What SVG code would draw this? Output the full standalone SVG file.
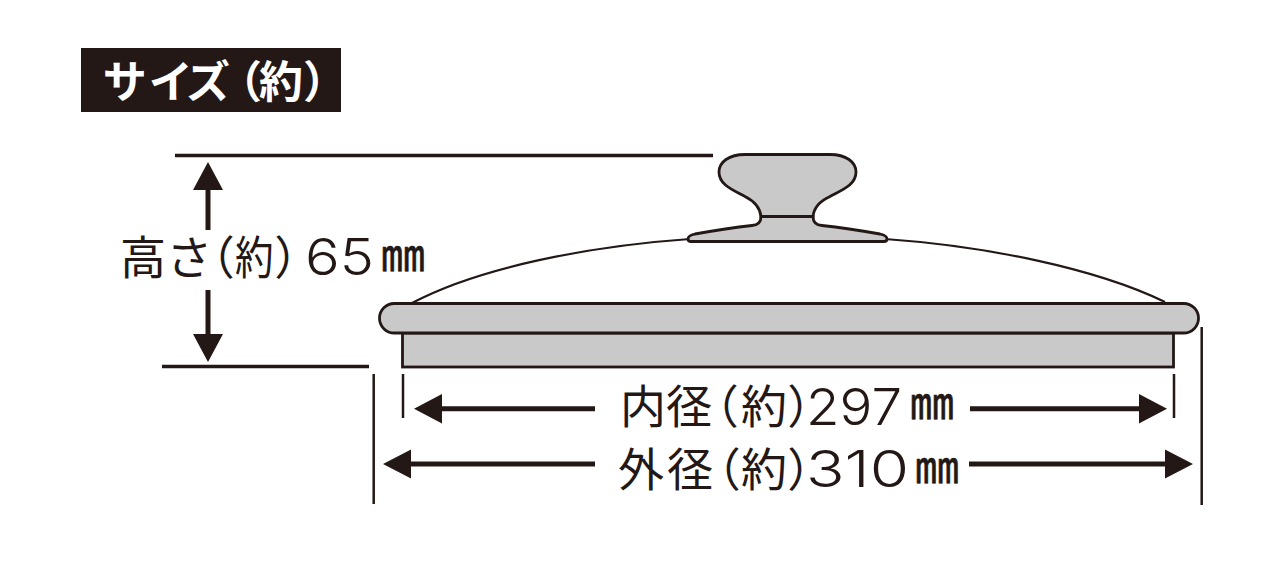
<svg xmlns="http://www.w3.org/2000/svg" width="1280" height="580" viewBox="0 0 1280 580">
<defs>
<style>
.ln{stroke:#231815;fill:none}
.part{fill:#c9c9c9;stroke:#231815;stroke-width:2.8}
.ar{fill:#231815}
.t{font-family:"Noto Sans CJK JP","Noto Sans",sans-serif;fill:#231815;font-size:46px;font-feature-settings:"palt"}
.c{letter-spacing:-6px}
.n{font-family:Inter,"Liberation Sans",sans-serif;font-weight:300;fill:#231815;font-size:51px}
.u{font-family:"Noto Sans CJK JP","Noto Sans",sans-serif;fill:#231815;stroke:#231815;stroke-width:.6;font-size:44px}
</style>
</defs>
<rect width="1280" height="580" fill="#fff"/>
<g id="title">
<rect x="81" y="48" width="260" height="64" fill="#231815"/>
<text y="98" font-family="'Noto Sans CJK JP',sans-serif" font-weight="700" font-size="44" fill="#fff" style="font-feature-settings:'palt'"><tspan x="103">サ</tspan><tspan x="150">イ</tspan><tspan x="187">ズ</tspan><tspan x="238">（</tspan><tspan x="259">約</tspan><tspan x="305">）</tspan></text>
</g>
<g id="lid">
<path class="ln" stroke-width="2.2" d="M412 303C480 267 590 246 690 239M885 239C985 246 1095 268 1165 302"/>
<path id="flange" class="part" d="M761 216.5C761 222 758 225 752 225.5C730 228 712 231 695 234C690 235 688 237 688 239C688 241 689 241.5 691 241.5H884C886 241.5 887 241 887 239C887 237 885 235 880 234C863 231 845 228 822 225.5C816 225 813 222 813 216.5Z"/>
<path id="knob" class="part" d="M761 216.5C760 207 754 201 745 196.5C733 190 719 185 719 172C719 162 729 154.5 745 154.5H830C846 154.5 856 162 856 172C856 185 842 190 830 196.5C820 201 814 207 813 216.5Z"/>
<rect id="skirt" class="part" x="402.5" y="333" width="771" height="34"/>
<rect id="rim" class="part" x="379.5" y="303.5" width="819" height="29.5" rx="14.75"/>
</g>
<g id="connectors">
<path class="ln" stroke-width="3.6" d="M175 155.5H713M162 366.5H369"/>
<path class="ln" stroke-width="2.5" d="M403 374V418M1174 374V418M373.7 374V504M1201.7 327V505"/>
<path class="ln" stroke-width="5" d="M208 230V185M208 290V340M595 408.7H435M970 408.7H1145M595 464H405M969 464H1170"/>
<path class="ar" d="M208 162L223 190H193ZM208 362L223 334H193ZM414 408.7L442 394V423.4ZM1167 408.7L1139 394V423.4ZM383 464L411 449.5V478.5ZM1193 464L1165 449.5V478.5Z"/>
</g>
<g id="height-label">
<text y="274" class="t"><tspan x="120">高</tspan><tspan x="168">さ</tspan><tspan x="210">（</tspan></text>
<text class="t" transform="translate(235 274) scale(.84 1)">約</text>
<text y="274" class="t" x="276">）</text>
<text y="275" class="n" x="305" textLength="69" lengthAdjust="spacingAndGlyphs">65</text>
<text y="271" class="u" x="381">㎜</text>
</g>
<g id="inner-label">
<text y="423" class="t"><tspan x="620">内</tspan><tspan x="666">径</tspan><tspan x="714">（</tspan><tspan x="741">約</tspan><tspan x="789" class="c">）</tspan></text>
<text y="425" class="n" x="806" textLength="96" lengthAdjust="spacingAndGlyphs">297</text>
<text y="419" class="u" x="910">㎜</text>
</g>
<g id="outer-label">
<text y="486" class="t"><tspan x="618">外</tspan><tspan x="667">径</tspan><tspan x="716">（</tspan><tspan x="741">約</tspan><tspan x="789" class="c">）</tspan></text>
<text y="487" class="n" x="806" textLength="103" lengthAdjust="spacingAndGlyphs">310</text>
<text y="483" class="u" x="915">㎜</text>
</g>
</svg>
